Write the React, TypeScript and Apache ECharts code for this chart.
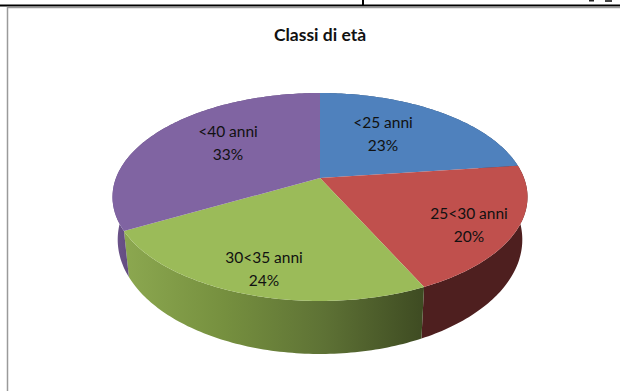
import React, { useEffect, useRef } from "react";
import * as echarts from "echarts";

// Age-class shares, in percent, clockwise from twelve o'clock.
const categories = ["<25 anni", "25<30 anni", "30<35 anni", "<40 anni"];
const shares = [23, 20, 24, 33];

const topColors = ["#4f81bd", "#c0504d", "#9bbb59", "#8064a2"];

const WIDTH = 620;
const HEIGHT = 391;

// Perspective of the disc: unit-circle coordinates onto the screen.
const HUB_X = 320;
const HUB_Y = 178;
const SPREAD_X = 204;
const SPREAD_Y = 100.5;
const TILT = 0.1827;

// The rim's lower edge relative to the upper one.
const LOWER_SCALE_X = 0.975;
const LOWER_SCALE_Y = 1.1;
const LOWER_SHIFT_Y = 22.9;

// Centre of each two-line label.
const labelCentres = [
  [383, 133],
  [469, 224],
  [264, 268],
  [228, 142],
];
const LABEL_LINE_GAP = 23;

const upper = (deg: number): number[] => {
  const t = (deg * Math.PI) / 180;
  const u = Math.sin(t);
  const v = -Math.cos(t);
  const w = 1 - TILT * v;
  return [HUB_X + (SPREAD_X * u) / w, HUB_Y + (SPREAD_Y * v) / w];
};

const lower = (deg: number): number[] => {
  const [x, y] = upper(deg);
  return [HUB_X + (x - HUB_X) * LOWER_SCALE_X, y * LOWER_SCALE_Y + LOWER_SHIFT_Y];
};

const arc = (from: number, to: number, at: (d: number) => number[]): number[][] => {
  const pts: number[][] = [];
  const steps = Math.max(2, Math.ceil(to - from));
  for (let i = 0; i <= steps; i++) pts.push(at(from + ((to - from) * i) / steps));
  return pts;
};

const total = shares.reduce((a, b) => a + b, 0);
const sweep = (index: number): [number, number] => {
  let before = 0;
  for (let i = 0; i < index; i++) before += shares[i];
  return [(before / total) * 360, ((before + shares[index]) / total) * 360];
};

const band = (left: number, right: number, stops: string[]) =>
  new echarts.graphic.LinearGradient(
    left, 0, right, 0,
    stops.map((color, i) => ({ offset: i / (stops.length - 1), color })),
    true
  );

// Shading of the rim, by slice.
const rimFills = [
  "#2f4d71",
  "#4e1f1f",
  band(123, 424, ["#8ca850", "#76903f", "#5e7235", "#3e4b22"]),
  band(113, 135, ["#6d548c", "#5f4a7c"]),
];

export default function App() {
  const ref = useRef<HTMLDivElement>(null);

  useEffect(() => {
    if (!ref.current) return;
    const chart = echarts.init(ref.current, undefined, { renderer: "svg" });
    chart.setOption({
      animation: false,
      backgroundColor: "#ffffff",
      title: {
        text: "Classi di età",
        left: 320,
        top: 25,
        padding: 0,
        textAlign: "center",
        textStyle: {
          fontFamily: "Lato",
          fontSize: 17.5,
          fontWeight: 700,
          color: "#111111",
        },
      },
      graphic: [
        { type: "line", shape: { x1: 0, y1: 5.5, x2: WIDTH, y2: 5.5 }, style: { stroke: "#000000", lineWidth: 2 } },
        { type: "line", shape: { x1: 7, y1: 7.5, x2: WIDTH, y2: 7.5 }, style: { stroke: "#9a9a9a", lineWidth: 1.5 } },
        { type: "line", shape: { x1: 7.5, y1: 7, x2: 7.5, y2: HEIGHT }, style: { stroke: "#9a9a9a", lineWidth: 1.5 } },
        { type: "line", shape: { x1: 363, y1: 0, x2: 363, y2: 5 }, style: { stroke: "#000000", lineWidth: 2 } },
        { type: "rect", shape: { x: 589, y: 0, width: 5, height: 1.5 }, style: { fill: "#222222" } },
        { type: "rect", shape: { x: 605, y: 0, width: 7, height: 2 }, style: { fill: "#444444" } },
      ],
      series: [
        {
          // Rim of the disc, drawn first so that the top faces cover its hidden parts.
          type: "custom",
          coordinateSystem: "none",
          silent: true,
          z: 2,
          data: shares,
          renderItem: (params: any) => {
            const [from, to] = sweep(params.dataIndex);
            const points = [...arc(from, to, upper), ...arc(from, to, lower).reverse()];
            return { type: "polygon", shape: { points }, style: { fill: rimFills[params.dataIndex] } };
          },
        },
        {
          // Top faces with their labels.
          type: "custom",
          coordinateSystem: "none",
          silent: true,
          z: 3,
          data: shares,
          renderItem: (params: any, api: any) => {
            const i = params.dataIndex;
            const [from, to] = sweep(i);
            const points = [[HUB_X, HUB_Y], ...arc(from, to, upper)];
            const [lx, ly] = labelCentres[i];
            const line = (text: string, y: number) => ({
              type: "text",
              z2: 10,
              style: {
                text,
                x: lx,
                y,
                align: "center",
                verticalAlign: "middle",
                fill: "#111111",
                fontFamily: "Lato",
                fontSize: 15.5,
              },
            });
            return {
              type: "group",
              children: [
                { type: "polygon", shape: { points }, style: { fill: topColors[i] } },
                line(categories[i], ly - LABEL_LINE_GAP / 2),
                line(`${api.value(0)}%`, ly + LABEL_LINE_GAP / 2),
              ],
            };
          },
        },
      ],
    });
    return () => chart.dispose();
  }, []);

  return (
    <div
      ref={ref}
      style={{ position: "fixed", left: 0, top: 0, width: WIDTH, height: HEIGHT }}
    />
  );
}
